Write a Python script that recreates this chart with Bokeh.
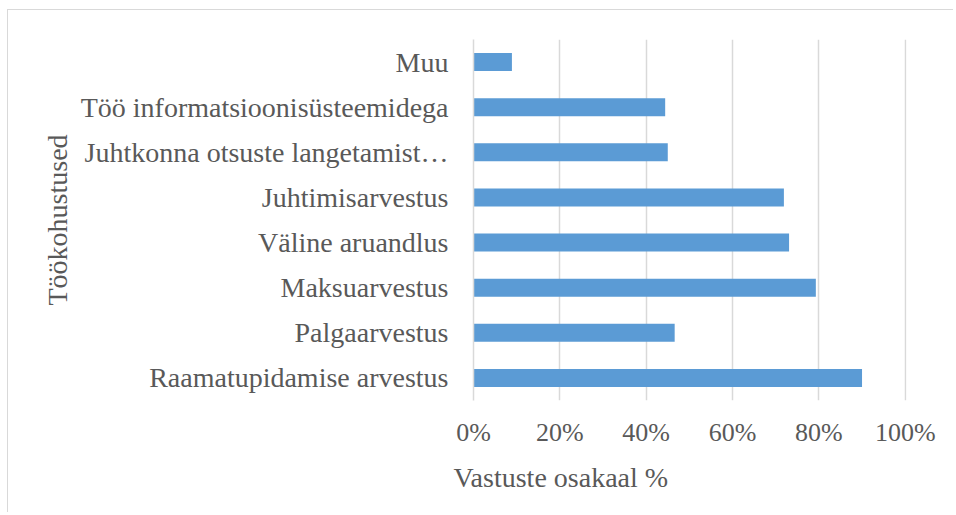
from bokeh.plotting import figure
from bokeh.models import FactorRange, Range1d, NumeralTickFormatter, FixedTicker, Title
from bokeh.embed import file_html
from bokeh.resources import INLINE

categories = [
    "Raamatupidamise arvestus",
    "Palgaarvestus",
    "Maksuarvestus",
    "Väline aruandlus",
    "Juhtimisarvestus",
    "Juhtkonna otsuste langetamist…",
    "Töö informatsioonisüsteemidega",
    "Muu",
]
values = [0.900, 0.466, 0.793, 0.731, 0.719, 0.450, 0.444, 0.089]
x_ticks = [0, 0.2, 0.4, 0.6, 0.8, 1.0]

FONT = "Liberation Serif"
TXT = "#595959"
GRID = "#D9D9D9"

W, H = 946, 503
p = figure(width=W, height=H, y_range=FactorRange(*categories), x_range=Range1d(0, 1.003),
           output_backend="svg", toolbar_location=None,
           min_border_left=465, min_border_right=48, min_border_top=29, min_border_bottom=113)
p.margin = (9, 0, 0, 7)
p.styles = {"border-top": "1px solid #D9D9D9", "border-left": "1px solid #D9D9D9"}

p.hbar(y=categories, right=values, left=0, height=0.4, color="#5B9BD5", line_color=None)

p.outline_line_color = None
p.ygrid.grid_line_color = None
p.xgrid.grid_line_color = GRID
p.xgrid.grid_line_width = 1.5
p.xaxis.ticker = FixedTicker(ticks=x_ticks)
p.xaxis.formatter = NumeralTickFormatter(format="0%")
for ax in (p.xaxis, p.yaxis):
    ax.axis_line_color = None
    ax.major_tick_line_color = None
    ax.minor_tick_line_color = None
    ax.major_tick_out = 0
    ax.major_tick_in = 0
    ax.minor_tick_out = 0
    ax.minor_tick_in = 0
    ax.major_label_text_font = FONT
    ax.major_label_text_color = TXT
p.yaxis.axis_line_color = GRID
p.yaxis.axis_line_width = 1.5
p.yaxis.major_label_text_font_size = "28px"
p.xaxis.major_label_text_font_size = "26px"
p.yaxis.major_label_standoff = 25
p.xaxis.major_label_standoff = 17
p.y_range.range_padding = 0
p.y_range.factor_padding = 0

p.yaxis.axis_label = "Töökohustused"
p.yaxis.axis_label_text_font = FONT
p.yaxis.axis_label_text_font_size = "28px"
p.yaxis.axis_label_text_font_style = "normal"
p.yaxis.axis_label_text_color = TXT
p.yaxis.axis_label_standoff = 5

p.add_layout(Title(text="Vastuste osakaal %", align="left", offset=-20, standoff=21,
                   text_font=FONT, text_font_size="28px", text_font_style="normal",
                   text_color=TXT), "below")

open("out.html", "w").write(file_html(p, INLINE))
